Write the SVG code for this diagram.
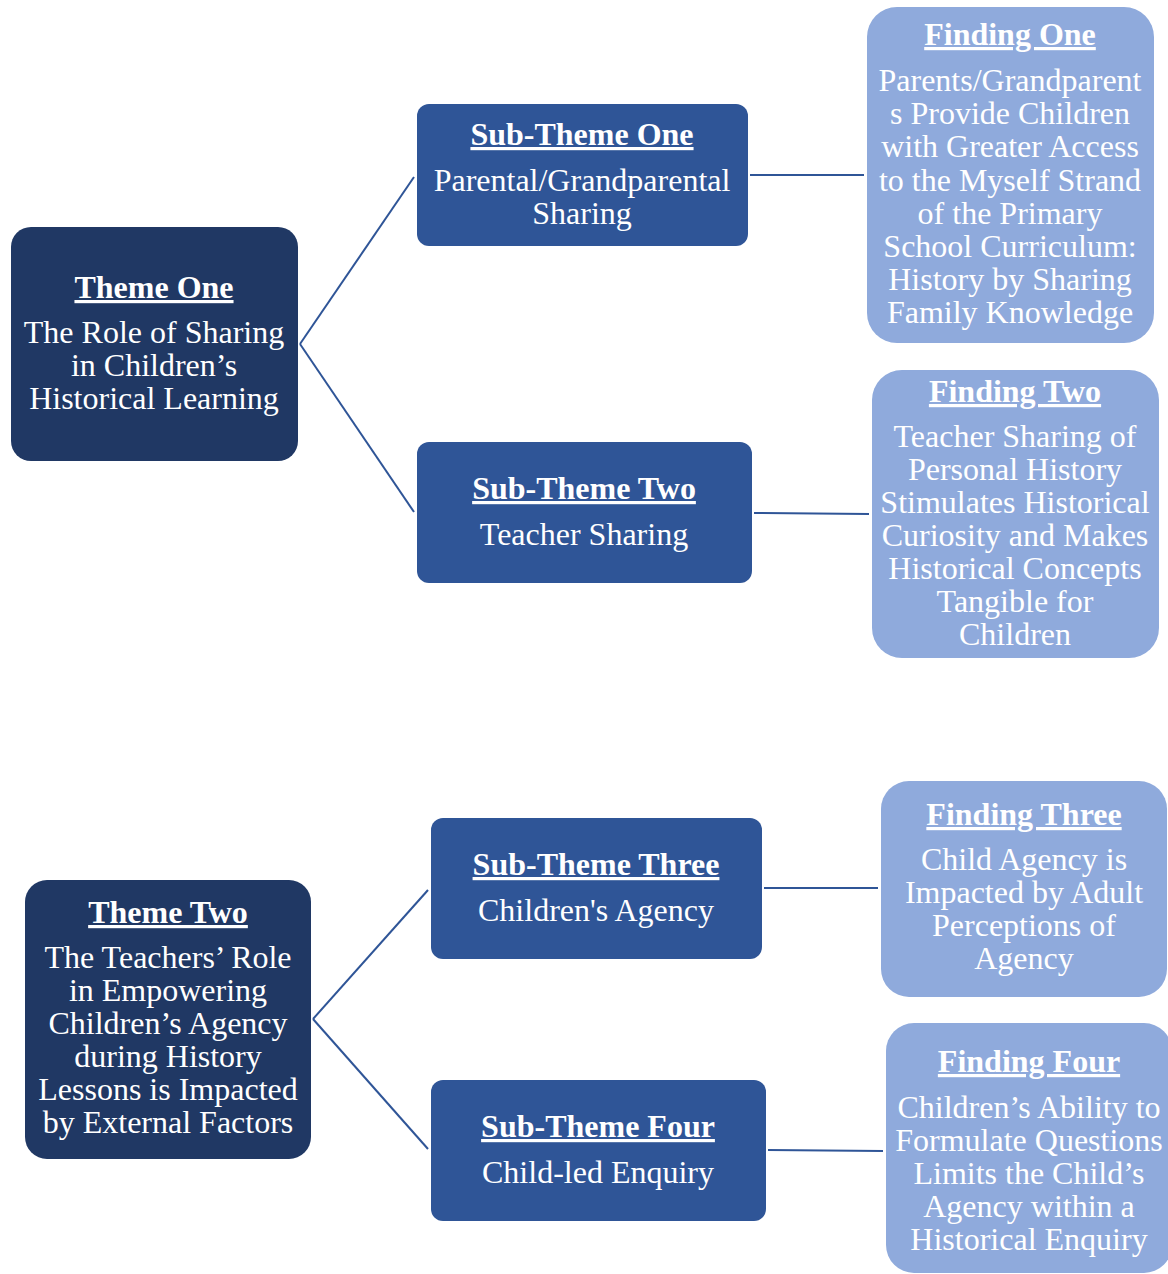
<svg xmlns="http://www.w3.org/2000/svg" width="1168" height="1274" viewBox="0 0 1168 1274">
  <style>
    text { font-family: "Liberation Serif", "Times New Roman", serif; fill: #ffffff; text-anchor: middle; font-size: 32px; }
    .title { font-weight: bold; text-decoration: underline; }
    .theme { fill: #203864; }
    .sub { fill: #2f5597; }
    .finding { fill: #8faadc; }
    .link { stroke: #2f5597; stroke-width: 2; fill: none; }
  </style>
  <rect width="1168" height="1274" fill="#ffffff"/>

  <!-- connectors -->
  <g id="connectors">
    <line class="link" x1="300" y1="344" x2="414" y2="177"/>
    <line class="link" x1="300" y1="344" x2="414" y2="512"/>
    <line class="link" x1="750" y1="175" x2="864" y2="175"/>
    <line class="link" x1="754" y1="513" x2="869" y2="514"/>
    <line class="link" x1="313" y1="1019" x2="428" y2="890"/>
    <line class="link" x1="313" y1="1019" x2="428" y2="1149"/>
    <line class="link" x1="764" y1="888" x2="878" y2="888"/>
    <line class="link" x1="768" y1="1150" x2="883" y2="1151"/>
  </g>

  <!-- theme one branch -->
  <g id="theme-one">
    <rect class="theme" x="11" y="227" width="287" height="234" rx="20"/>
    <text class="title" x="154" y="298">Theme One</text>
    <text x="154" y="343">The Role of Sharing</text>
    <text x="154" y="376">in Children’s</text>
    <text x="154" y="409">Historical Learning</text>
  </g>

  <g id="sub-theme-one">
    <rect class="sub" x="417" y="104" width="331" height="142" rx="12"/>
    <text class="title" x="582" y="145">Sub-Theme One</text>
    <text x="582" y="191">Parental/Grandparental</text>
    <text x="582" y="224">Sharing</text>
  </g>

  <g id="sub-theme-two">
    <rect class="sub" x="417" y="442" width="335" height="141" rx="12"/>
    <text class="title" x="584" y="499">Sub-Theme Two</text>
    <text x="584" y="545">Teacher Sharing</text>
  </g>

  <g id="finding-one">
    <rect class="finding" x="867" y="7" width="287" height="336" rx="30"/>
    <text class="title" x="1010" y="45">Finding One</text>
    <text x="1010" y="91">Parents/Grandparent</text>
    <text x="1010" y="124">s Provide Children</text>
    <text x="1010" y="157">with Greater Access</text>
    <text x="1010" y="191">to the Myself Strand</text>
    <text x="1010" y="224">of the Primary</text>
    <text x="1010" y="257">School Curriculum:</text>
    <text x="1010" y="290">History by Sharing</text>
    <text x="1010" y="323">Family Knowledge</text>
  </g>

  <g id="finding-two">
    <rect class="finding" x="872" y="370" width="287" height="288" rx="30"/>
    <text class="title" x="1015" y="402">Finding Two</text>
    <text x="1015" y="447">Teacher Sharing of</text>
    <text x="1015" y="480">Personal History</text>
    <text x="1015" y="513">Stimulates Historical</text>
    <text x="1015" y="546">Curiosity and Makes</text>
    <text x="1015" y="579">Historical Concepts</text>
    <text x="1015" y="612">Tangible for</text>
    <text x="1015" y="645">Children</text>
  </g>

  <!-- theme two branch -->
  <g id="theme-two">
    <rect class="theme" x="25" y="880" width="286" height="279" rx="22"/>
    <text class="title" x="168" y="923">Theme Two</text>
    <text x="168" y="968">The Teachers’ Role</text>
    <text x="168" y="1001">in Empowering</text>
    <text x="168" y="1034">Children’s Agency</text>
    <text x="168" y="1067">during History</text>
    <text x="168" y="1100">Lessons is Impacted</text>
    <text x="168" y="1133">by External Factors</text>
  </g>

  <g id="sub-theme-three">
    <rect class="sub" x="431" y="818" width="331" height="141" rx="12"/>
    <text class="title" x="596" y="875">Sub-Theme Three</text>
    <text x="596" y="921">Children's Agency</text>
  </g>

  <g id="sub-theme-four">
    <rect class="sub" x="431" y="1080" width="335" height="141" rx="12"/>
    <text class="title" x="598" y="1137">Sub-Theme Four</text>
    <text x="598" y="1183">Child-led Enquiry</text>
  </g>

  <g id="finding-three">
    <rect class="finding" x="881" y="781" width="286" height="216" rx="28"/>
    <text class="title" x="1024" y="825">Finding Three</text>
    <text x="1024" y="870">Child Agency is</text>
    <text x="1024" y="903">Impacted by Adult</text>
    <text x="1024" y="936">Perceptions of</text>
    <text x="1024" y="969">Agency</text>
  </g>

  <g id="finding-four">
    <rect class="finding" x="886" y="1023" width="286" height="250" rx="28"/>
    <text class="title" x="1029" y="1072">Finding Four</text>
    <text x="1029" y="1118">Children’s Ability to</text>
    <text x="1029" y="1151">Formulate Questions</text>
    <text x="1029" y="1184">Limits the Child’s</text>
    <text x="1029" y="1217">Agency within a</text>
    <text x="1029" y="1250">Historical Enquiry</text>
  </g>
</svg>
